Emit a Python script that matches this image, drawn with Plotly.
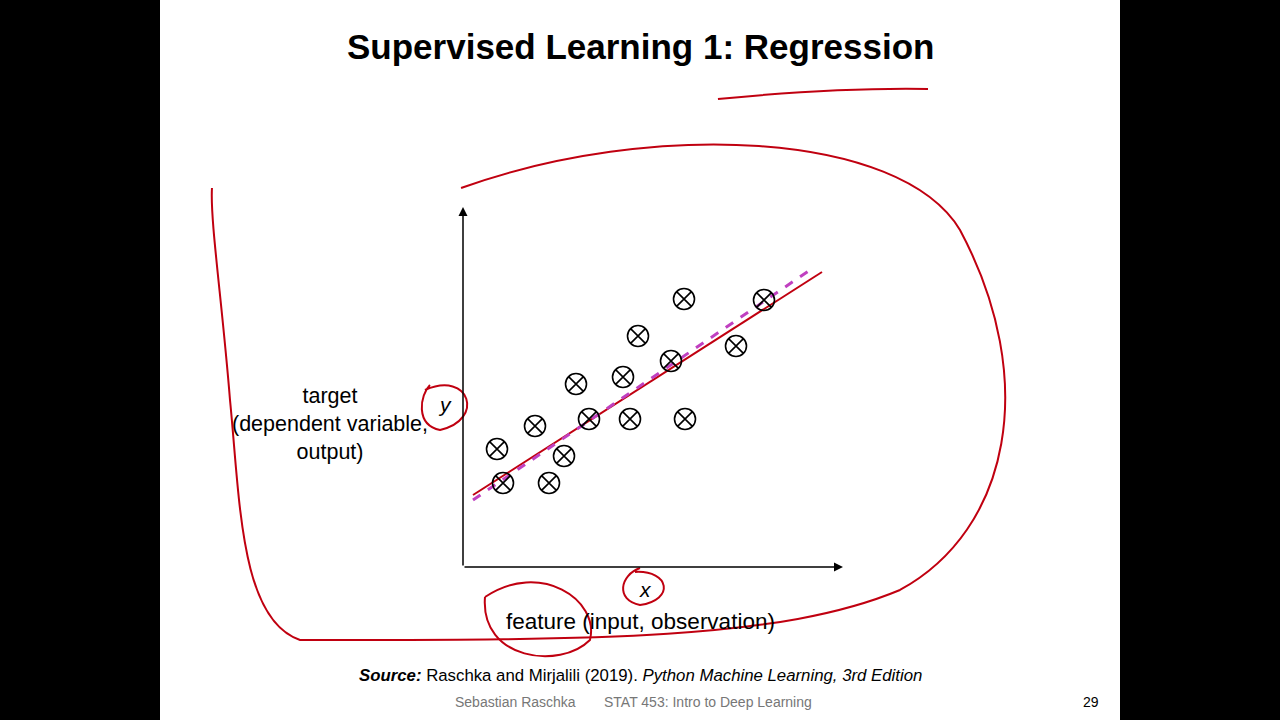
import plotly.graph_objects as go

W, H = 1280, 720
# data in plot units (origin at axes corner)
x_pts = [40, 86, 34, 72, 101, 113, 126, 160, 167, 175, 208, 221, 222, 273, 301]
y_pts = [84, 84, 118, 141, 111, 183, 148, 190, 148, 231, 206, 268, 148, 221, 267]
fit_dash_x = [10, 347]; fit_dash_y = [67, 297]
fit_red_x = [10, 359]; fit_red_y = [72, 295]

X0, Y0, X1, Y1 = 463, 567, 843, 207  # axes pixel box

fig = go.Figure()
fig.add_trace(go.Scatter(x=fit_red_x, y=fit_red_y, mode="lines",
                         line=dict(color="#c00010", width=2), hoverinfo="skip"))
fig.add_trace(go.Scatter(x=fit_dash_x, y=fit_dash_y, mode="lines",
                         line=dict(color="#c040c0", width=3, dash="dash"), hoverinfo="skip"))
fig.add_trace(go.Scatter(x=x_pts, y=y_pts, mode="markers",
                         marker=dict(symbol="circle-x-open", size=21, color="black",
                                     line=dict(width=1.6, color="black"))))

def P(px, py):
    return f"{px/W:.4f},{1-py/H:.4f}"

def path(pts):
    s = "M " + P(*pts[0])
    for i in range(1, len(pts) - 2, 3):
        s += " C " + P(*pts[i]) + " " + P(*pts[i+1]) + " " + P(*pts[i+2])
    return s

shapes = [
    dict(type="rect", xref="paper", yref="paper", x0=0, x1=160/W, y0=0, y1=1, fillcolor="black", line_width=0, layer="below"),
    dict(type="rect", xref="paper", yref="paper", x0=1120/W, x1=1, y0=0, y1=1, fillcolor="black", line_width=0, layer="below"),
]
red = dict(color="#c00010", width=2)
curves = [
    [(718, 99), (790, 92), (870, 88), (928, 89)],
    [(461, 188), (650, 120), (900, 130), (960, 230), (1040, 380), (1010, 530), (900, 590),
     (780, 640), (600, 640), (300, 640), (240, 620), (240, 500), (230, 400),
     (222, 300), (210, 220), (212, 188)],
    [(485, 597), (540, 560), (600, 600), (590, 640), (560, 670), (480, 660), (485, 597)],
    [(425, 390), (470, 370), (485, 420), (440, 430), (415, 425), (420, 395), (430, 385)],
    [(635, 572), (670, 570), (675, 600), (640, 605), (615, 600), (620, 575), (640, 568)],
]
for c in curves:
    shapes.append(dict(type="path", xref="paper", yref="paper", path=path(c), line=red))

ann = []
def T(px, py, text, size=20, color="black"):
    ann.append(dict(xref="paper", yref="paper", x=px/W, y=1-py/H, text=text, showarrow=False,
                    font=dict(size=size, color=color, family="Liberation Sans, Arial"),
                    xanchor="center", yanchor="middle"))

# axes arrows
ann.append(dict(xref="paper", yref="paper", x=X1/W, y=1-Y0/H, ax=-(X1-X0), ay=0,
                showarrow=True, arrowhead=2, arrowsize=1.2, arrowwidth=1.5, arrowcolor="black", text=""))
ann.append(dict(xref="paper", yref="paper", x=X0/W, y=1-Y1/H, ax=0, ay=(Y0-Y1),
                showarrow=True, arrowhead=2, arrowsize=1.2, arrowwidth=1.5, arrowcolor="black", text=""))

T(640, 47, "<b>Supervised Learning 1: Regression</b>", 35)
T(330, 424, "target<br>(dependent variable,<br>output)", 21.5)
T(445, 404, "<i>y</i>", 21)
T(645, 589, "<i>x</i>", 21)
T(640, 621, "feature (input, observation)", 22.5)
T(640, 675, "<b><i>Source:</i></b> Raschka and Mirjalili (2019). <i>Python Machine Learning, 3rd Edition</i>", 16.8)
T(515, 702, "Sebastian Raschka", 14, "#777")
T(708, 702, "STAT 453: Intro to Deep Learning", 14, "#777")
T(1091, 702, "29", 14)

fig.update_layout(width=W, height=H, margin=dict(l=0, r=0, t=0, b=0), showlegend=False,
                  paper_bgcolor="white", plot_bgcolor="rgba(0,0,0,0)", shapes=shapes, annotations=ann,
                  xaxis=dict(domain=[X0/W, X1/W], range=[0, X1-X0], visible=False, fixedrange=True),
                  yaxis=dict(domain=[1-Y0/H, 1-Y1/H], range=[0, Y0-Y1], visible=False, fixedrange=True))
fig.write_html("out.html", config={"displayModeBar": False},
               post_script="document.body.style.margin='0';document.body.style.overflow='hidden';")
